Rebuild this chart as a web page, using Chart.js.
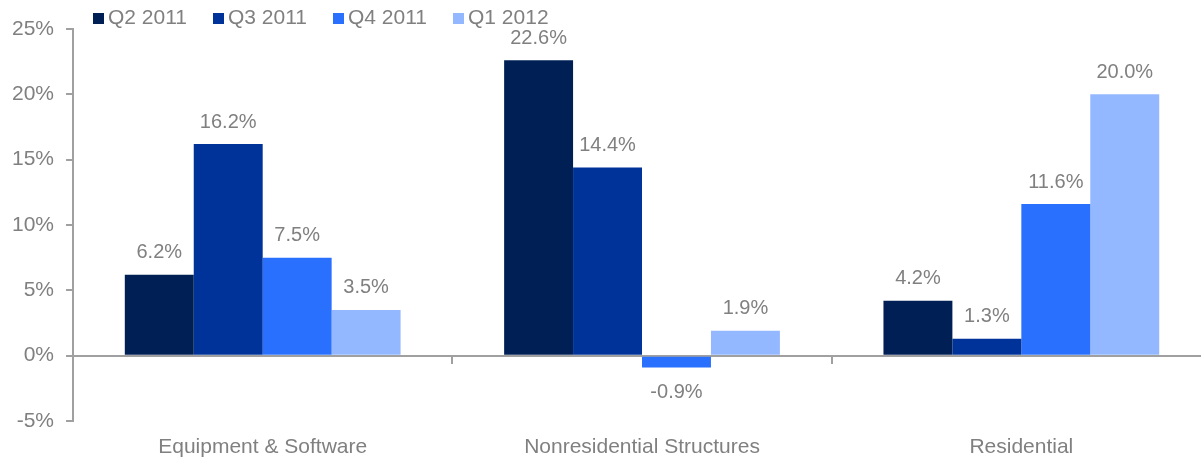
<!DOCTYPE html>
<html>
<head>
<meta charset="utf-8">
<script src="https://cdn.jsdelivr.net/npm/chart.js@4.4.1/dist/chart.umd.min.js"></script>
<style>
  html, body { margin: 0; padding: 0; background: #fff; overflow: hidden; }
  #chart { display: block; }
</style>
</head>
<body>
<canvas id="chart" width="1211" height="458"></canvas>
<script>
// data
const categories = ['Equipment & Software', 'Nonresidential Structures', 'Residential'];
const seriesNames = ['Q2 2011', 'Q3 2011', 'Q4 2011', 'Q1 2012'];
const q2_2011 = [6.2, 22.6, 4.2];
const q3_2011 = [16.2, 14.4, 1.3];
const q4_2011 = [7.5, -0.9, 11.6];
const q1_2012 = [3.5, 1.9, 20.0];
const yTicks = [-5, 0, 5, 10, 15, 20, 25];

const colors = ['#001f55', '#003399', '#2970ff', '#94b8ff'];
const gray = '#808080';
const axisGray = '#a0a0a0';
const fontFamily = '"Liberation Sans", Arial, sans-serif';

// value labels above (or below, for negatives) each bar
const valueLabels = {
  id: 'valueLabels',
  afterDatasetsDraw(chart) {
    const ctx = chart.ctx;
    ctx.save();
    ctx.font = '20px ' + fontFamily;
    ctx.fillStyle = gray;
    ctx.textAlign = 'center';
    ctx.textBaseline = 'middle';
    chart.data.datasets.forEach((ds, i) => {
      chart.getDatasetMeta(i).data.forEach((bar, j) => {
        const v = ds.data[j];
        const y = v >= 0 ? bar.y - 22 : bar.y + 25;
        ctx.fillText(v.toFixed(1) + '%', bar.x, y);
      });
    });
    ctx.restore();
  }
};

// legend across the top, small squares + gray text
const topLegend = {
  id: 'topLegend',
  afterDraw(chart) {
    const ctx = chart.ctx;
    ctx.save();
    ctx.font = '21px ' + fontFamily;
    ctx.textBaseline = 'middle';
    ctx.textAlign = 'left';
    let x = 93;
    chart.data.datasets.forEach(ds => {
      ctx.fillStyle = ds.backgroundColor;
      ctx.fillRect(x, 13, 11, 11);
      ctx.fillStyle = gray;
      ctx.fillText(ds.label, x + 15, 18.5);
      x += 120;
    });
    ctx.restore();
  }
};

const allSeries = [q2_2011, q3_2011, q4_2011, q1_2012];

new Chart(document.getElementById('chart'), {
  type: 'bar',
  data: {
    labels: categories,
    datasets: allSeries.map((vals, i) => ({
      label: seriesNames[i],
      data: vals,
      backgroundColor: colors[i],
      borderWidth: 0,
      categoryPercentage: 0.727,
      barPercentage: 1.0
    }))
  },
  options: {
    responsive: false,
    animation: false,
    devicePixelRatio: 1,
    layout: { padding: { top: 29, left: 0, right: 0, bottom: 0 } },
    plugins: {
      legend: { display: false },
      tooltip: { enabled: false }
    },
    scales: {
      x: {
        position: 'bottom',
        grid: { display: false, drawTicks: false },
        border: { display: false },
        ticks: { color: gray, font: { size: 21, family: fontFamily }, padding: 14 },
        afterFit(scale) { scale.height = 37; }
      },
      xz: {
        type: 'category',
        position: { y: 0 },
        offset: true,
        grid: { offset: true, drawOnChartArea: false, tickLength: 7, color: axisGray, lineWidth: 2 },
        border: { color: axisGray, width: 2 },
        ticks: { display: false },
        afterFit(scale) { scale.height = 0; }
      },
      y: {
        min: -5,
        max: 25,
        afterBuildTicks(scale) { scale.ticks = yTicks.map(v => ({ value: v })); },
        grid: { drawOnChartArea: false, tickLength: 7, color: axisGray, lineWidth: 2 },
        border: { color: axisGray, width: 2 },
        ticks: {
          color: gray,
          font: { size: 21, family: fontFamily },
          padding: 12,
          callback: v => v + '%'
        }
      }
    }
  },
  plugins: [valueLabels, topLegend]
});
</script>
</body>
</html>
